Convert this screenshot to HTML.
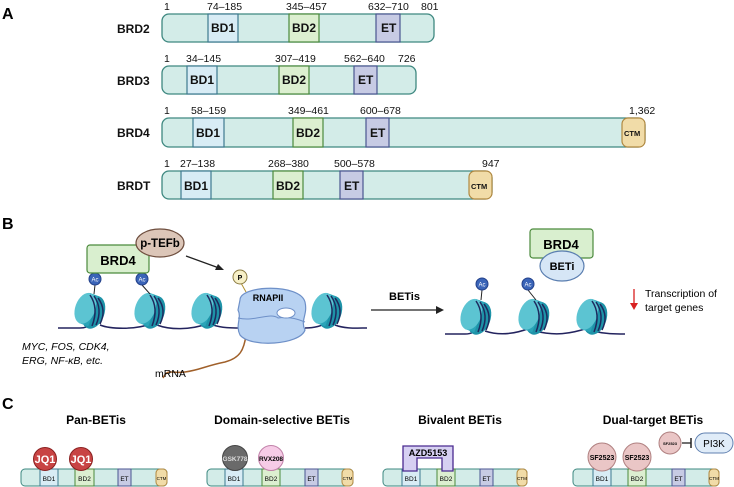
<!DOCTYPE html>
<html><head><meta charset="utf-8"><style>
html,body{margin:0;padding:0;background:#fff}
svg{display:block}
text{font-family:"Liberation Sans",Arial,sans-serif}
</style></head><body>
<svg width="734" height="487" viewBox="0 0 734 487" xmlns="http://www.w3.org/2000/svg">
<defs>
<g id="nuc">
  <ellipse cx="4" cy="1" rx="11" ry="17" fill="#1e93a8" transform="rotate(20)"/>
  <rect x="-6" y="-16" width="10" height="32" fill="#2aa4b8" transform="rotate(20)"/>
  <ellipse cx="-5" cy="0" rx="10" ry="16" fill="#5cc4d2" transform="rotate(20)"/>
  <path d="M0,-15 Q9,-2 2,16" stroke="#1d2a5e" stroke-width="1.5" fill="none"/>
  <path d="M4,-14 Q13,-1 6,15" stroke="#1d2a5e" stroke-width="1.5" fill="none"/>
  <path d="M8,-12 Q17,0 10,14" stroke="#1d2a5e" stroke-width="1.5" fill="none"/>
</g>
</defs>
<g font-weight="bold" font-size="16"><text x="2" y="19">A</text><text x="2" y="229">B</text><text x="2" y="409">C</text></g>

<!-- Panel A -->
<g font-size="10.5" fill="#111">
<g font-weight="bold" font-size="12"><text x="117" y="33">BRD2</text><text x="117" y="85">BRD3</text><text x="117" y="137">BRD4</text><text x="117" y="190">BRDT</text></g>
<rect x="162" y="14" width="272" height="28" rx="7" fill="#d3ece8" stroke="#3e8880" stroke-width="1.3"/>
<rect x="208" y="14" width="30" height="28" fill="#d8ecf5" stroke="#3e7a90" stroke-width="1.2"/>
<rect x="289" y="14" width="30" height="28" fill="#dcefd0" stroke="#4b8a3c" stroke-width="1.2"/>
<rect x="376" y="14" width="24" height="28" fill="#c7cbe4" stroke="#4a5690" stroke-width="1.2"/>
<g font-weight="bold" font-size="12"><text x="211" y="32">BD1</text><text x="292" y="32">BD2</text><text x="381" y="32">ET</text></g>
<text x="164" y="10">1</text><text x="207" y="10">74–185</text><text x="286" y="10">345–457</text><text x="368" y="10">632–710</text><text x="421" y="10">801</text>
<rect x="162" y="66" width="254" height="28" rx="7" fill="#d3ece8" stroke="#3e8880" stroke-width="1.3"/>
<rect x="187" y="66" width="30" height="28" fill="#d8ecf5" stroke="#3e7a90" stroke-width="1.2"/>
<rect x="279" y="66" width="30" height="28" fill="#dcefd0" stroke="#4b8a3c" stroke-width="1.2"/>
<rect x="354" y="66" width="23" height="28" fill="#c7cbe4" stroke="#4a5690" stroke-width="1.2"/>
<g font-weight="bold" font-size="12"><text x="190" y="84">BD1</text><text x="282" y="84">BD2</text><text x="358" y="84">ET</text></g>
<text x="164" y="62">1</text><text x="186" y="62">34–145</text><text x="275" y="62">307–419</text><text x="344" y="62">562–640</text><text x="398" y="62">726</text>
<rect x="162" y="118" width="483" height="29" rx="7" fill="#d3ece8" stroke="#3e8880" stroke-width="1.3"/>
<rect x="193" y="118" width="31" height="29" fill="#d8ecf5" stroke="#3e7a90" stroke-width="1.2"/>
<rect x="293" y="118" width="30" height="29" fill="#dcefd0" stroke="#4b8a3c" stroke-width="1.2"/>
<rect x="366" y="118" width="23" height="29" fill="#c7cbe4" stroke="#4a5690" stroke-width="1.2"/>
<rect x="622" y="118" width="23" height="29" rx="6" fill="#f1dca8" stroke="#b08840" stroke-width="1.2"/>
<g font-weight="bold" font-size="12"><text x="196" y="137">BD1</text><text x="296" y="137">BD2</text><text x="370" y="137">ET</text></g>
<text x="624" y="136" font-weight="bold" font-size="7.5">CTM</text>
<text x="164" y="114">1</text><text x="191" y="114">58–159</text><text x="288" y="114">349–461</text><text x="360" y="114">600–678</text><text x="629" y="114">1,362</text>
<rect x="162" y="171" width="330" height="28" rx="7" fill="#d3ece8" stroke="#3e8880" stroke-width="1.3"/>
<rect x="181" y="171" width="30" height="28" fill="#d8ecf5" stroke="#3e7a90" stroke-width="1.2"/>
<rect x="273" y="171" width="30" height="28" fill="#dcefd0" stroke="#4b8a3c" stroke-width="1.2"/>
<rect x="340" y="171" width="23" height="28" fill="#c7cbe4" stroke="#4a5690" stroke-width="1.2"/>
<rect x="469" y="171" width="23" height="28" rx="6" fill="#f1dca8" stroke="#b08840" stroke-width="1.2"/>
<g font-weight="bold" font-size="12"><text x="184" y="190">BD1</text><text x="276" y="190">BD2</text><text x="344" y="190">ET</text></g>
<text x="471" y="189" font-weight="bold" font-size="7.5">CTM</text>
<text x="164" y="167">1</text><text x="180" y="167">27–138</text><text x="268" y="167">268–380</text><text x="334" y="167">500–578</text><text x="482" y="167">947</text>
</g>

<!-- Panel B left -->
<path d="M58,328 L80,328 C88,328 92,324 96,322 M100,325 C110,329 135,330 150,324 M157,325 C170,330 190,330 207,324 M213,325 C222,328 232,328 240,328 M305,328 C315,328 322,326 328,322 M335,325 C345,329 358,328 367,328" stroke="#23235e" stroke-width="1.5" fill="none"/>
<use href="#nuc" x="90" y="310"/>
<use href="#nuc" x="150" y="310"/>
<use href="#nuc" x="207" y="310"/>
<use href="#nuc" x="327" y="310"/>
<line x1="95" y1="285" x2="94" y2="294" stroke="#222" stroke-width="1"/>
<line x1="142" y1="285" x2="150" y2="294" stroke="#222" stroke-width="1"/>
<circle cx="95" cy="279" r="6" fill="#3a64b8" stroke="#23418a"/><text x="95" y="281.5" font-size="6" fill="#fff" text-anchor="middle">Ac</text>
<circle cx="142" cy="279" r="6" fill="#3a64b8" stroke="#23418a"/><text x="142" y="281.5" font-size="6" fill="#fff" text-anchor="middle">Ac</text>
<rect x="87" y="245" width="62" height="28" rx="3" fill="#d9efcf" stroke="#4b8a3c" stroke-width="1.2"/>
<text x="118" y="265" font-size="13" font-weight="bold" text-anchor="middle">BRD4</text>
<ellipse cx="160" cy="243" rx="24" ry="14" fill="#dcc6b8" stroke="#6e4e3e" stroke-width="1.2"/>
<text x="160" y="247" font-size="11.5" font-weight="bold" text-anchor="middle">p-TEFb</text>
<line x1="186" y1="256" x2="219" y2="268" stroke="#222" stroke-width="1.2"/>
<polygon points="224,270 215,270 218,264" fill="#222"/>
<path d="M246,335 C244,350 240,358 225,362 C205,366 200,370 185,372 C170,374 168,368 163,378" stroke="#a0602a" stroke-width="1.5" fill="none"/>
<text x="155" y="377" font-size="10.5">mRNA</text>
<line x1="241" y1="283" x2="246" y2="292" stroke="#b09030" stroke-width="1"/>
<circle cx="240" cy="277" r="7" fill="#f7f0c8" stroke="#8a7a40"/><text x="240" y="280" font-size="7" font-weight="bold" text-anchor="middle">P</text>
<path d="M240,300 C240,285 300,283 305,302 C308,315 300,320 305,330 C300,345 250,348 240,335 C235,325 242,318 238,310 Z" fill="#b8d2f2" stroke="#6e90c8" stroke-width="1.2"/>
<path d="M238,318 C255,322 270,312 278,318 C290,316 300,320 305,322" stroke="#6e90c8" fill="none"/>
<ellipse cx="286" cy="313" rx="9" ry="5" fill="#fff" stroke="#6e90c8"/>
<text x="268" y="301" font-size="9" font-weight="bold" text-anchor="middle">RNAPII</text>
<g font-size="10.5" font-style="italic"><text x="22" y="350">MYC, FOS, CDK4,</text><text x="22" y="364">ERG, NF-κB, etc.</text></g>

<text x="389" y="300" font-size="11" font-weight="bold">BETis</text>
<line x1="371" y1="310" x2="438" y2="310" stroke="#222" stroke-width="1.2"/>
<polygon points="444,310 436,306 436,314" fill="#222"/>

<!-- Panel B right -->
<path d="M445,334 L465,334 C472,334 476,331 480,328 M485,331 C500,336 515,334 530,328 M535,331 C555,336 570,334 588,328 M593,331 C605,334 615,334 625,334" stroke="#23235e" stroke-width="1.5" fill="none"/>
<use href="#nuc" x="476" y="316"/>
<use href="#nuc" x="534" y="316"/>
<use href="#nuc" x="592" y="316"/>
<line x1="482" y1="290" x2="481" y2="300" stroke="#222"/>
<line x1="528" y1="290" x2="536" y2="300" stroke="#222"/>
<circle cx="482" cy="284" r="6" fill="#3a64b8" stroke="#23418a"/><text x="482" y="286.5" font-size="6" fill="#fff" text-anchor="middle">Ac</text>
<circle cx="528" cy="284" r="6" fill="#3a64b8" stroke="#23418a"/><text x="528" y="286.5" font-size="6" fill="#fff" text-anchor="middle">Ac</text>
<rect x="530" y="229" width="63" height="29" rx="3" fill="#d9efcf" stroke="#4b8a3c" stroke-width="1.2"/>
<text x="561" y="249" font-size="13" font-weight="bold" text-anchor="middle">BRD4</text>
<ellipse cx="562" cy="266" rx="22" ry="15" fill="#d6e6f6" stroke="#5a7eb0" stroke-width="1.2"/>
<text x="562" y="270" font-size="11" font-weight="bold" text-anchor="middle">BETi</text>
<line x1="634" y1="289" x2="634" y2="304" stroke="#d82020" stroke-width="1.3"/>
<polygon points="630,303 638,303 634,310" fill="#d82020"/>
<g font-size="10.5"><text x="645" y="297">Transcription of</text><text x="645" y="311">target genes</text></g>

<!-- Panel C -->
<g font-size="12" font-weight="bold" text-anchor="middle">
<text x="96" y="424">Pan-BETis</text><text x="282" y="424">Domain-selective BETis</text><text x="460" y="424">Bivalent BETis</text><text x="653" y="424">Dual-target BETis</text>
</g>
<g>
<rect x="21" y="469" width="146" height="17" rx="4" fill="#d3ece8" stroke="#3e8880"/>
<rect x="40" y="469" width="18" height="17" fill="#d8ecf5" stroke="#3e7a90"/><rect x="75" y="469" width="19" height="17" fill="#dcefd0" stroke="#4b8a3c"/><rect x="118" y="469" width="13" height="17" fill="#c7cbe4" stroke="#4a5690"/><rect x="156" y="469" width="11" height="17" rx="4" fill="#f1dca8" stroke="#b08840"/>
<g font-size="6.5" text-anchor="middle"><text x="49" y="481">BD1</text><text x="84.5" y="481">BD2</text><text x="124.5" y="481">ET</text><text x="161.5" y="480" font-size="4.5">CTM</text></g>
</g>
<g transform="translate(186,0)">
<rect x="21" y="469" width="146" height="17" rx="4" fill="#d3ece8" stroke="#3e8880"/>
<rect x="39" y="469" width="18" height="17" fill="#d8ecf5" stroke="#3e7a90"/><rect x="76" y="469" width="18" height="17" fill="#dcefd0" stroke="#4b8a3c"/><rect x="119" y="469" width="13" height="17" fill="#c7cbe4" stroke="#4a5690"/><rect x="156" y="469" width="11" height="17" rx="4" fill="#f1dca8" stroke="#b08840"/>
<g font-size="6.5" text-anchor="middle"><text x="48" y="481">BD1</text><text x="85" y="481">BD2</text><text x="125.5" y="481">ET</text><text x="161.5" y="480" font-size="4.5">CTM</text></g>
</g>
<g transform="translate(362,0)">
<rect x="21" y="469" width="144" height="17" rx="4" fill="#d3ece8" stroke="#3e8880"/>
<rect x="40" y="469" width="18" height="17" fill="#d8ecf5" stroke="#3e7a90"/><rect x="75" y="469" width="18" height="17" fill="#dcefd0" stroke="#4b8a3c"/><rect x="118" y="469" width="13" height="17" fill="#c7cbe4" stroke="#4a5690"/><rect x="155" y="469" width="10" height="17" rx="4" fill="#f1dca8" stroke="#b08840"/>
<g font-size="6.5" text-anchor="middle"><text x="49" y="481">BD1</text><text x="84" y="481">BD2</text><text x="124.5" y="481">ET</text><text x="160" y="480" font-size="4.5">CTM</text></g>
</g>
<g transform="translate(552,0)">
<rect x="21" y="469" width="146" height="17" rx="4" fill="#d3ece8" stroke="#3e8880"/>
<rect x="41" y="469" width="18" height="17" fill="#d8ecf5" stroke="#3e7a90"/><rect x="76" y="469" width="18" height="17" fill="#dcefd0" stroke="#4b8a3c"/><rect x="120" y="469" width="13" height="17" fill="#c7cbe4" stroke="#4a5690"/><rect x="157" y="469" width="10" height="17" rx="4" fill="#f1dca8" stroke="#b08840"/>
<g font-size="6.5" text-anchor="middle"><text x="50" y="481">BD1</text><text x="85" y="481">BD2</text><text x="126.5" y="481">ET</text><text x="162" y="480" font-size="4.5">CTM</text></g>
</g>
<circle cx="45" cy="459" r="11.5" fill="#c84444" stroke="#8a2020"/><text x="45" y="463" font-size="11" font-weight="bold" fill="#fff" text-anchor="middle">JQ1</text>
<circle cx="81" cy="459" r="11.5" fill="#c84444" stroke="#8a2020"/><text x="81" y="463" font-size="11" font-weight="bold" fill="#fff" text-anchor="middle">JQ1</text>
<circle cx="235" cy="458" r="12.5" fill="#6a6a6a" stroke="#444"/><text x="235" y="461" font-size="6.5" font-weight="bold" fill="#ddd" text-anchor="middle">GSK778</text>
<circle cx="271" cy="458" r="12.5" fill="#f6cbe6" stroke="#c080a8"/><text x="271" y="461" font-size="6.5" font-weight="bold" text-anchor="middle">RVX208</text>
<path d="M403,446 H453 V471 H442 V458 H417 V471 H403 Z" fill="#d6d0f2" stroke="#4a2a90" stroke-width="1.3"/>
<text x="428" y="456" font-size="9" font-weight="bold" text-anchor="middle">AZD5153</text>
<circle cx="602" cy="457" r="14" fill="#eac6c6" stroke="#b08080"/><text x="602" y="460" font-size="7" font-weight="bold" text-anchor="middle">SF2523</text>
<circle cx="637" cy="457" r="14" fill="#eac6c6" stroke="#b08080"/><text x="637" y="460" font-size="7" font-weight="bold" text-anchor="middle">SF2523</text>
<circle cx="670" cy="443" r="11" fill="#eac6c6" stroke="#b08080"/><text x="670" y="445" font-size="4" font-weight="bold" text-anchor="middle">SF2523</text>
<line x1="682" y1="443" x2="691" y2="443" stroke="#222" stroke-width="1.3"/><line x1="691" y1="438" x2="691" y2="448" stroke="#222" stroke-width="1.5"/>
<rect x="695" y="433" width="38" height="20" rx="10" fill="#e0ecf8" stroke="#6080b0"/>
<text x="714" y="447" font-size="10" text-anchor="middle">PI3K</text>
</svg>
</body></html>
